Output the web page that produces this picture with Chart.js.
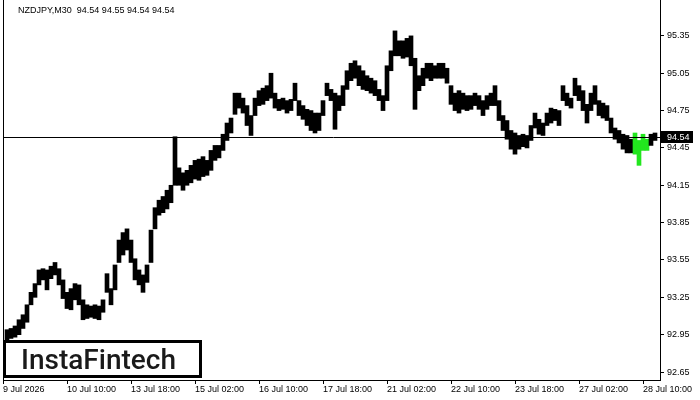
<!DOCTYPE html>
<html>
<head>
<meta charset="utf-8">
<script src="https://cdn.jsdelivr.net/npm/chart.js@4.4.1/dist/chart.umd.min.js"></script>
<style>
  html, body { margin: 0; padding: 0; background: #fff; }
  #wrap { width: 700px; height: 400px; }
</style>
</head>
<body>
<div id="wrap"><canvas id="chart" width="700" height="400"></canvas></div>
<script>
// NZDJPY M30, every point below = 4 bars (2 hours), high / low
const symbolTitle = 'NZDJPY,M30  94.54 94.55 94.54 94.54';
const lastPrice = 94.54;
const barsPerPoint = 4;
const barsPerLabel = 64;
const tickLabels = ['9 Jul 2026', '10 Jul 10:00', '13 Jul 18:00', '15 Jul 02:00', '16 Jul 10:00',
    '17 Jul 18:00', '21 Jul 02:00', '22 Jul 10:00', '23 Jul 18:00', '27 Jul 02:00', '28 Jul 10:00'];
const priceTicks = [92.65, 92.95, 93.25, 93.55, 93.85, 94.15, 94.45, 94.75, 95.05, 95.35];

const highs = [
    92.99, 93.00, 93.02, 93.07, 93.11, 93.19, 93.29, 93.36, 93.47, 93.48,
    93.47, 93.50, 93.53, 93.48, 93.39, 93.29, 93.32, 93.36, 93.35, 93.23,
    93.19, 93.18, 93.19, 93.18, 93.23, 93.44, 93.32, 93.51, 93.71, 93.77,
    93.80, 93.71, 93.56, 93.47, 93.43, 93.51, 93.79, 93.97, 94.03, 94.06,
    94.11, 94.15, 94.54, 94.29, 94.25, 94.27, 94.31, 94.35, 94.36, 94.38,
    94.35, 94.43, 94.47, 94.47, 94.56, 94.65, 94.69, 94.89, 94.89, 94.85,
    94.79, 94.71, 94.85, 94.91, 94.93, 94.95, 95.05, 94.89, 94.84, 94.85,
    94.83, 94.84, 94.97, 94.83, 94.79, 94.76, 94.75, 94.73, 94.73, 94.83,
    94.97, 94.92, 94.89, 94.87, 94.95, 95.07, 95.13, 95.15, 95.11, 95.07,
    95.03, 95.01, 94.99, 94.92, 94.87, 95.11, 95.23, 95.39, 95.31, 95.31,
    95.33, 95.35, 95.17, 95.03, 95.09, 95.13, 95.13, 95.11, 95.13, 95.13,
    95.09, 94.95, 94.89, 94.91, 94.89, 94.87, 94.87, 94.89, 94.87, 94.83,
    94.87, 94.89, 94.95, 94.83, 94.71, 94.67, 94.59, 94.57, 94.55, 94.56,
    94.55, 94.63, 94.73, 94.68, 94.65, 94.73, 94.77, 94.76, 94.75, 94.95,
    94.89, 94.85, 95.01, 94.95, 94.91, 94.80, 94.89, 94.95, 94.83, 94.81,
    94.79, 94.69, 94.61, 94.59, 94.56, 94.55, 94.52, 94.57, 94.51, 94.56,
    94.52, 94.56, 94.57
];
const lows = [
    92.91, 92.92, 92.93, 92.95, 93.00, 93.05, 93.19, 93.25, 93.35, 93.39,
    93.31, 93.40, 93.43, 93.35, 93.24, 93.16, 93.15, 93.23, 93.19, 93.07,
    93.08, 93.09, 93.08, 93.07, 93.13, 93.29, 93.19, 93.31, 93.53, 93.59,
    93.63, 93.53, 93.39, 93.35, 93.29, 93.37, 93.53, 93.80, 93.91, 93.93,
    93.96, 94.01, 94.15, 94.15, 94.11, 94.15, 94.17, 94.20, 94.19, 94.22,
    94.23, 94.27, 94.35, 94.37, 94.43, 94.51, 94.57, 94.72, 94.77, 94.73,
    94.63, 94.55, 94.71, 94.79, 94.80, 94.83, 94.85, 94.77, 94.75, 94.76,
    94.73, 94.75, 94.83, 94.71, 94.68, 94.63, 94.59, 94.57, 94.59, 94.71,
    94.87, 94.83, 94.60, 94.75, 94.79, 94.92, 94.99, 95.01, 94.95, 94.92,
    94.91, 94.89, 94.87, 94.83, 94.75, 94.83, 95.07, 95.19, 95.19, 95.17,
    95.18, 95.11, 94.76, 94.91, 94.95, 95.01, 94.99, 95.01, 95.01, 95.01,
    94.97, 94.80, 94.75, 94.73, 94.76, 94.75, 94.76, 94.79, 94.76, 94.71,
    94.76, 94.79, 94.79, 94.67, 94.59, 94.52, 94.44, 94.40, 94.44, 94.46,
    94.45, 94.51, 94.61, 94.56, 94.55, 94.63, 94.65, 94.67, 94.63, 94.83,
    94.79, 94.77, 94.87, 94.83, 94.75, 94.65, 94.75, 94.80, 94.71, 94.69,
    94.67, 94.57, 94.52, 94.49, 94.44, 94.41, 94.41, 94.40, 94.31, 94.43,
    94.43, 94.47, 94.51
];
// points marked by the pattern (green)
const patternFrom = 157;
const patternTo = 160;

const FONT = 'Liberation Sans, Arial, sans-serif';
Chart.defaults.font.family = FONT;
Chart.defaults.font.size = 9;
Chart.defaults.color = '#000';

const points = highs.map((h, i) => ({ x: i * barsPerPoint + barsPerPoint, y: [lows[i], h] }));

const overlay = {
    id: 'overlay',
    afterDraw(chart) {
        const c = chart.ctx;
        const a = chart.chartArea;
        const yS = chart.scales.y;
        c.save();
        c.strokeStyle = '#000';
        c.lineWidth = 1;
        // frame lines
        c.beginPath();
        c.moveTo(a.left + 0.5, 0); c.lineTo(a.left + 0.5, a.bottom);
        c.moveTo(a.right + 0.5, 0); c.lineTo(a.right + 0.5, a.bottom);
        c.stroke();
        // last price line
        const py = Math.round(yS.getPixelForValue(lastPrice)) + 0.5;
        c.beginPath();
        c.moveTo(a.left, py); c.lineTo(a.right + 4, py);
        c.stroke();
        c.fillStyle = '#000';
        c.fillRect(a.right + 1, py - 6.5, 32, 12);
        c.fillStyle = '#fff';
        c.font = '9px ' + FONT;
        c.textBaseline = 'middle';
        c.fillText(lastPrice.toFixed(2), a.right + 7, py);
        // title
        c.fillStyle = '#000';
        c.fillText(symbolTitle, 18, 11);
        // logo box
        c.fillStyle = '#fff';
        c.fillRect(4, 341, 197, 36);
        c.lineWidth = 3;
        c.strokeRect(4.5, 341.5, 196, 35);
        c.fillStyle = '#1a1a1a';
        c.font = '500 28px Roboto, ' + FONT;
        c.textBaseline = 'alphabetic';
        c.fillText('InstaFintech', 21, 369);
        c.restore();
    }
};

new Chart(document.getElementById('chart'), {
    type: 'bar',
    data: {
        datasets: [{
            data: points,
            backgroundColor: ctx => (ctx.dataIndex >= patternFrom && ctx.dataIndex <= patternTo) ? '#22e61e' : '#000',
            borderWidth: 0,
            barThickness: 4,
            grouped: false
        }]
    },
    options: {
        responsive: false,
        animation: false,
        devicePixelRatio: 1,
        layout: { padding: { left: 3, top: 5, right: 0, bottom: 0 } },
        plugins: { legend: { display: false }, tooltip: { enabled: false } },
        scales: {
            x: {
                type: 'linear',
                offset: false,
                min: 0,
                max: 657,
                grid: { display: true, offset: false, drawOnChartArea: false, tickLength: 4, color: '#000' },
                border: { color: '#000' },
                ticks: {
                    align: 'start',
                    maxRotation: 0,
                    autoSkip: false,
                    padding: 0,
                    callback: (v, i) => tickLabels[i]
                },
                afterBuildTicks: s => { s.ticks = tickLabels.map((_, j) => ({ value: j * barsPerLabel })); },
                afterFit: s => { s.height = 20; s.paddingLeft = 0; s.paddingRight = 0; }
            },
            y: {
                position: 'right',
                min: 92.586,
                max: 95.598,
                grid: { display: true, drawOnChartArea: false, tickLength: 4, color: '#000' },
                border: { color: '#000' },
                ticks: { padding: 3, callback: v => v.toFixed(2) },
                afterBuildTicks: s => { s.ticks = priceTicks.map(v => ({ value: v })); },
                afterFit: s => { s.width = 40; s.paddingTop = 0; s.paddingBottom = 0; }
            }
        }
    },
    plugins: [overlay]
});
</script>
</body>
</html>
